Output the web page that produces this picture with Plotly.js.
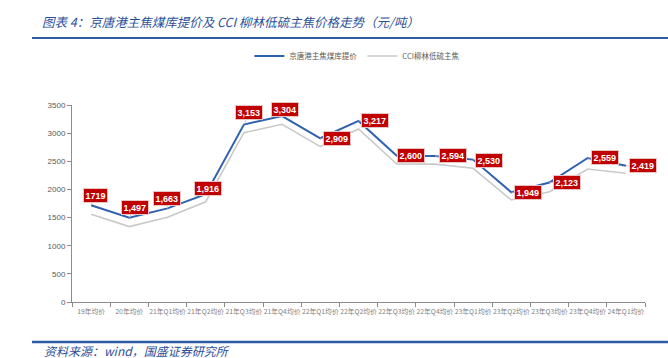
<!DOCTYPE html>
<html>
<head>
<meta charset="utf-8">
<script src="https://cdn.plot.ly/plotly-3.0.1.min.js"></script>
<style>
html,body{margin:0;padding:0;background:#fff;}
#chart{width:668px;height:358px;}
</style>
</head>
<body>
<div id="chart"></div>
<script>
// ---- data ----
var categories = ["19年均价","20年均价","21年Q1均价","21年Q2均价","21年Q3均价","21年Q4均价","22年Q1均价","22年Q2均价","22年Q3均价","22年Q4均价","23年Q1均价","23年Q2均价","23年Q3均价","23年Q4均价","24年Q1均价"];
var jingtangPrice = [1719,1497,1663,1916,3153,3304,2909,3217,2600,2594,2530,1949,2123,2559,2419];
var cciLiulin = [1558,1340,1505,1780,3008,3157,2760,3074,2452,2450,2375,1812,1960,2363,2286];
var dataLabels = ["1719","1,497","1,663","1,916","3,153","3,304","2,909","3,217","2,600","2,594","2,530","1,949","2,123","2,559","2,419"];
var seriesNames = ["京唐港主焦煤库提价","CCI柳林低硫主焦"];

// ---- label placement (pixels) ----
var labelDx = [4,6,-1,2,5,3,17,16,14,18,16,17,17,17,17];
var labelDy = [-10,-10,-10,-6,-12,-7,0,0,0,0,1,0,0,0,0];

var blue = "#2F62AE";
var gray = "#C9C9C9";
var cjk = "Noto Sans CJK SC, sans-serif";

var traces = [
  {x: categories, y: jingtangPrice, name: seriesNames[0], type: "scatter", mode: "lines",
   line: {color: blue, width: 2}},
  {x: categories, y: cciLiulin, name: seriesNames[1], type: "scatter", mode: "lines",
   line: {color: gray, width: 1.6}}
];

var annotations = categories.map(function(c, i){
  return {
    x: c, y: jingtangPrice[i], xref: "x", yref: "y",
    text: dataLabels[i],
    showarrow: true, arrowhead: 0, arrowwidth: 0.8, arrowcolor: "#BFBFBF", standoff: 0,
    ax: labelDx[i], ay: labelDy[i],
    font: {family: "Liberation Sans, Arial, sans-serif", size: 9, color: "#FFFFFF", weight: "bold"},
    bgcolor: "#C00000", bordercolor: "#E8C4C4", borderwidth: 1, borderpad: 1.5
  };
});

annotations.push({
  xref: "paper", yref: "paper", x: -0.0524, y: -0.2437, xanchor: "left", yanchor: "middle",
  text: "资料来源：wind，国盛证券研究所", showarrow: false,
  font: {family: cjk, size: 12, color: "#2D4F9A", style: "italic"}
});

var layout = {
  width: 668, height: 358, autosize: false,
  margin: {l: 72, r: 23, t: 105, b: 56},
  paper_bgcolor: "#FFFFFF", plot_bgcolor: "#FFFFFF",
  title: {
    text: "图表 4：京唐港主焦煤库提价及 CCI 柳林低硫主焦价格走势（元/吨）",
    xref: "container", yref: "container", x: 42/668, xanchor: "left", y: 1 - 23/358, yanchor: "middle",
    font: {family: cjk, size: 12.5, color: "#2D4F9A", style: "italic"}
  },
  showlegend: true,
  legend: {
    orientation: "h", x: 0.498, xanchor: "center", y: 1.249, yanchor: "middle",
    font: {family: cjk, size: 7.5, color: "#595959"}, traceorder: "normal",
    itemwidth: 30
  },
  xaxis: {
    type: "category", range: [-0.5, 14.5], autorange: false,
    showgrid: false, showline: true, linecolor: "#8C8C8C", linewidth: 1,
    ticks: "outside", tickson: "boundaries", ticklen: 4, tickcolor: "#8C8C8C",
    ticklabelstandoff: 3,
    tickangle: 0, tickfont: {family: cjk, size: 6.8, color: "#7F7F7F"}, zeroline: false,
    fixedrange: true
  },
  yaxis: {
    range: [0, 3500], dtick: 500, showgrid: false, showline: true, linecolor: "#8C8C8C", linewidth: 1,
    ticks: "outside", ticklen: 4, tickcolor: "#8C8C8C", zeroline: false,
    tickfont: {family: "Liberation Sans, Arial, sans-serif", size: 8, color: "#595959"},
    fixedrange: true
  },
  shapes: [
    {type: "line", xref: "paper", yref: "paper", x0: -0.0698, x1: 1.0401, y0: 1.340, y1: 1.340,
     line: {color: "#2D5BA6", width: 2}},
    {type: "line", xref: "paper", yref: "paper", x0: -0.0698, x1: 1.0401, y0: -0.203, y1: -0.203,
     line: {color: "#2D5BA6", width: 2.5}}
  ],
  annotations: annotations
};

Plotly.newPlot("chart", traces, layout, {staticPlot: true, displayModeBar: false});
</script>
</body>
</html>
